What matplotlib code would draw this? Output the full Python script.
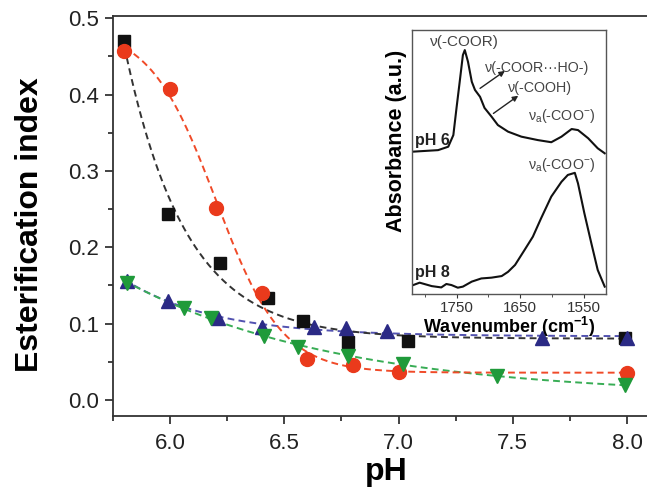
import numpy as np
import matplotlib
matplotlib.use("Agg")
import matplotlib.pyplot as plt
from matplotlib.ticker import MultipleLocator, FixedLocator, FormatStrFormatter

plt.rcParams['font.family'] = ['Liberation Sans', 'DejaVu Sans']
plt.rcParams['mathtext.fontset'] = 'custom'
plt.rcParams['mathtext.rm'] = 'Liberation Sans'
plt.rcParams['mathtext.it'] = 'Liberation Sans:italic'
plt.rcParams['mathtext.bf'] = 'Liberation Sans:bold'

# ---------------- data ----------------
ph_sq = [5.80, 5.99, 6.22, 6.43, 6.58, 6.78, 7.04, 7.99]
ei_sq = [0.470, 0.243, 0.180, 0.133, 0.104, 0.076, 0.077, 0.0815]

ph_ci = [5.80, 6.00, 6.20, 6.40, 6.60, 6.80, 7.00, 8.00]
ei_ci = [0.457, 0.407, 0.251, 0.140, 0.054, 0.046, 0.037, 0.035]

ph_up = [5.81, 5.99, 6.21, 6.40, 6.63, 6.77, 6.95, 7.63, 8.00]
ei_up = [0.156, 0.130, 0.107, 0.096, 0.095, 0.094, 0.090, 0.0815, 0.0815]

ph_dn = [5.81, 6.06, 6.18, 6.41, 6.56, 6.78, 7.02, 7.43, 7.99]
ei_dn = [0.153, 0.121, 0.108, 0.084, 0.070, 0.057, 0.047, 0.031, 0.020]

# inset spectra
wn_ph6 = [1820, 1779, 1763, 1755, 1750, 1745, 1740, 1737, 1732, 1726, 1721, 1713,
          1706, 1695, 1685, 1669, 1648, 1622, 1601, 1585, 1569, 1559, 1543, 1528, 1517]
ab_ph6 = [0.539, 0.545, 0.558, 0.602, 0.705, 0.804, 0.905, 0.924, 0.880, 0.804, 0.773, 0.747,
          0.705, 0.672, 0.640, 0.615, 0.596, 0.583, 0.575, 0.596, 0.625, 0.621, 0.590, 0.552, 0.533]

wn_ph8 = [1818, 1808, 1789, 1774, 1766, 1758, 1748, 1740, 1726, 1711, 1695, 1679, 1669, 1658,
          1643, 1630, 1617, 1601, 1585, 1575, 1564, 1559, 1549, 1538, 1528, 1517]
ab_ph8 = [0.034, 0.043, 0.030, 0.025, 0.038, 0.034, 0.024, 0.028, 0.047, 0.059, 0.062, 0.068,
          0.084, 0.110, 0.167, 0.217, 0.287, 0.369, 0.425, 0.451, 0.459, 0.419, 0.306, 0.192,
          0.091, 0.028]

inset_major = [1750, 1650, 1550]
inset_minor = [1800, 1700, 1600]

# ---------------- fits ----------------
def exp_fit(x, y, x0=5.8):
    x = np.asarray(x); y = np.asarray(y)
    best = None
    for tau in np.linspace(0.03, 3.0, 600):
        f = np.exp(-(x - x0) / tau)
        A = np.vstack([np.ones_like(f), f]).T
        coef, *_ = np.linalg.lstsq(A, y, rcond=None)
        r = np.sum((A @ coef - y) ** 2)
        if best is None or r < best[0]:
            best = (r, tau, coef)
    _, tau, (a, b) = best
    return lambda t: a + b * np.exp(-(t - x0) / tau)

def boltz_fit(x, y):
    x = np.asarray(x); y = np.asarray(y)
    best = None
    for xc in np.linspace(5.9, 6.6, 141):
        for dx in np.linspace(0.03, 0.4, 75):
            f = 1.0 / (1.0 + np.exp((x - xc) / dx))
            A = np.vstack([np.ones_like(f), f]).T
            coef, *_ = np.linalg.lstsq(A, y, rcond=None)
            r = np.sum((A @ coef - y) ** 2)
            if best is None or r < best[0]:
                best = (r, xc, dx, coef)
    _, xc, dx, (a, b) = best
    return lambda t: a + b / (1.0 + np.exp((t - xc) / dx))

xs = np.linspace(5.8, 8.0, 300)
f_sq = exp_fit(ph_sq, ei_sq)
f_ci = boltz_fit(ph_ci, ei_ci)
f_up = exp_fit(ph_up, ei_up)
f_dn = exp_fit(ph_dn, ei_dn)

# ---------------- figure ----------------
fig = plt.figure(figsize=(6.47, 4.88), dpi=100)
ax = fig.add_axes([0.1747, 0.1475, 0.8253, 0.8197])

c_k, c_kl = '#111111', '#333333'
c_r, c_rl = '#ea3a1c', '#f04a28'
c_b, c_bl = '#2b2a85', '#5252b0'
c_g, c_gl = '#1f9a3a', '#38ad55'
dash = (0, (3.5, 2.2))

ax.plot(xs, f_up(xs), color=c_bl, lw=1.4, ls=dash, zorder=2)
ax.plot(xs, f_sq(xs), color=c_kl, lw=1.4, ls=dash, zorder=2)
ax.plot(xs, f_dn(xs), color=c_gl, lw=1.4, ls=dash, zorder=2)
ax.plot(xs, f_ci(xs), color=c_rl, lw=1.4, ls=dash, zorder=2)

ax.plot(ph_sq, ei_sq, 's', color=c_k, ms=8.5, zorder=3)
ax.plot(ph_ci, ei_ci, 'o', color=c_r, ms=10, zorder=3)
ax.plot(ph_up, ei_up, '^', color=c_b, ms=10, zorder=3)
ax.plot(ph_dn, ei_dn, 'v', color=c_g, ms=10, zorder=3)

ax.set_xlim(5.75, 8.0875)
ax.set_ylim(-0.021, 0.503)
ax.xaxis.set_major_locator(MultipleLocator(0.5))
ax.xaxis.set_minor_locator(MultipleLocator(0.25))
ax.yaxis.set_major_locator(MultipleLocator(0.1))
ax.yaxis.set_minor_locator(MultipleLocator(0.05))
ax.xaxis.set_major_formatter(FormatStrFormatter('%.1f'))
ax.yaxis.set_major_formatter(FormatStrFormatter('%.1f'))
ax.tick_params(which='major', direction='out', length=6, width=1.2, labelsize=16,
               colors='#222222')
ax.tick_params(axis='x', which='major', pad=6)
ax.tick_params(axis='y', which='major', pad=4)
ax.tick_params(which='minor', direction='out', length=3.5, width=1.2, colors='#222222')
ax.spines['right'].set_visible(False)
for s in ['left', 'bottom', 'top']:
    ax.spines[s].set_linewidth(1.3)
    ax.spines[s].set_color('#333333')
ax.set_xlabel('pH', fontsize=23, fontweight='bold')
ax.set_ylabel('Esterification index', fontsize=23, fontweight='bold')
ax.xaxis.set_label_coords(0.511, -0.1025)
ax.yaxis.set_label_coords(-0.128, 0.478)

# ---------------- inset ----------------
ins = fig.add_axes([0.6368, 0.3975, 0.2998, 0.541])
ins.plot(wn_ph6, ab_ph6, color='#111111', lw=1.5)
ins.plot(wn_ph8, ab_ph8, color='#111111', lw=1.5)
ins.set_xlim(1820, 1515)
ins.set_ylim(0, 1)
ins.set_yticks([])
ins.xaxis.set_major_locator(FixedLocator(inset_major))
ins.xaxis.set_minor_locator(FixedLocator(inset_minor))
ins.tick_params(which='major', direction='out', length=3, labelsize=11, colors='#333333', pad=2)
ins.tick_params(which='minor', direction='out', length=2, colors='#333333')
for s in ins.spines.values():
    s.set_color('#555555'); s.set_linewidth(1.0)
ins.set_xlabel('Wavenumber (cm$^{\\mathbf{-1}}$)', fontsize=13, fontweight='bold', labelpad=0)
ins.set_ylabel('Absorbance (a.u.)', fontsize=15.5, fontweight='bold')
ins.yaxis.set_label_coords(-0.025, 0.58)

tc = '#444444'
ins.text(1737, 0.955, 'ν(-COOR)', fontsize=11, color=tc, ha='center', va='center')
ins.text(1624, 0.855, 'ν(-COOR···HO-)', fontsize=10.3, color=tc, ha='center', va='center')
ins.text(1619, 0.78, 'ν(-COOH)', fontsize=10.3, color=tc, ha='center', va='center')
ins.text(1585, 0.675, 'ν$_\\mathrm{a}$(-COO$^{-}$)', fontsize=10.3, color=tc, ha='center', va='center')
ins.text(1585, 0.49, 'ν$_\\mathrm{a}$(-COO$^{-}$)', fontsize=10.3, color=tc, ha='center', va='center')
ins.text(1815, 0.58, 'pH 6', fontsize=11.5, fontweight='bold', color='#222222', ha='left', va='center')
ins.text(1815, 0.08, 'pH 8', fontsize=11.5, fontweight='bold', color='#222222', ha='left', va='center')
ins.annotate('', xy=(1674, 0.845), xytext=(1713, 0.779),
             arrowprops=dict(arrowstyle='-|>', color='#222222', lw=1.0, mutation_scale=8,
                             shrinkA=0, shrinkB=0))
ins.annotate('', xy=(1653, 0.751), xytext=(1692, 0.684),
             arrowprops=dict(arrowstyle='-|>', color='#222222', lw=1.0, mutation_scale=8,
                             shrinkA=0, shrinkB=0))

fig.savefig('out.png', dpi=100)
